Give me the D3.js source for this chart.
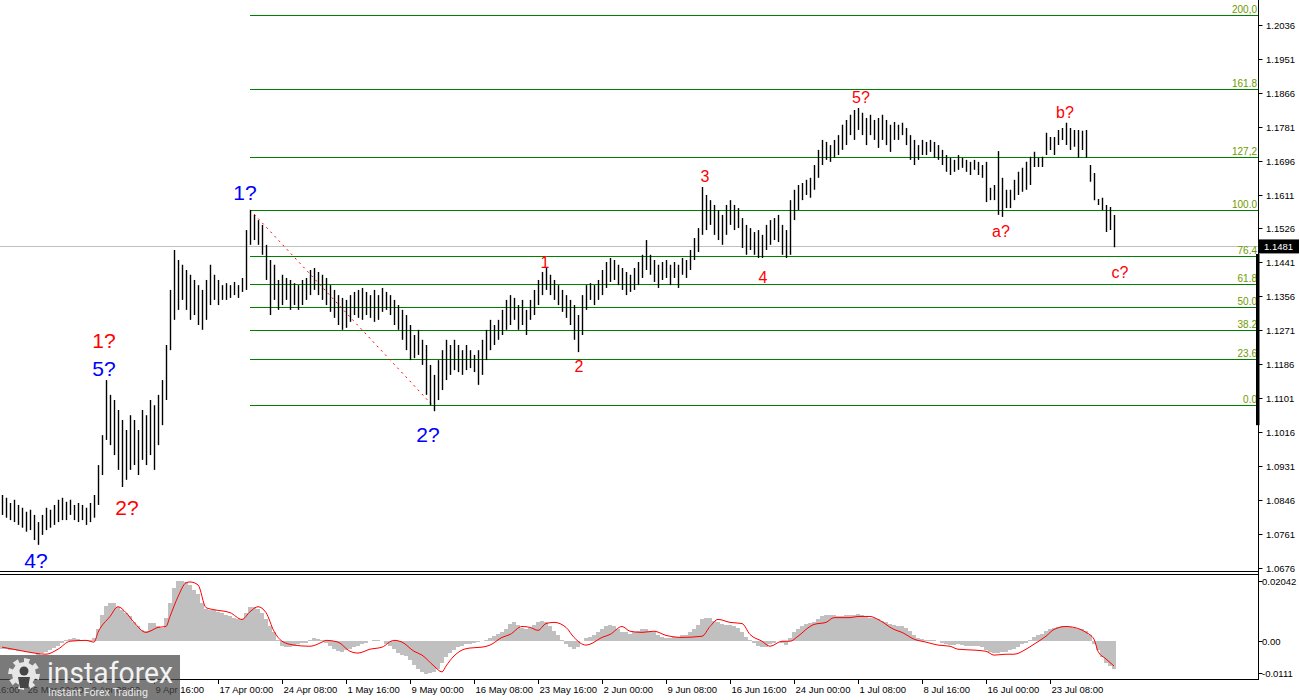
<!DOCTYPE html>
<html><head><meta charset="utf-8">
<script src="https://cdn.jsdelivr.net/npm/d3@7"></script>
<style>
body{margin:0;background:#fff;}
svg{display:block;font-family:"Liberation Sans",Arial,sans-serif;}
</style>
</head><body>
<svg id="c" width="1300" height="700"></svg>
<script>
// ---------------- DATA ----------------
const priceTicks = [1.2036,1.1951,1.1866,1.1781,1.1696,1.1611,1.1526,1.1441,1.1356,1.1271,1.1186,1.1101,1.1016,1.0931,1.0846,1.0761,1.0676];
const highs = [
1.0858,1.0851,1.0838,1.0846,1.0833,1.0826,1.0816,1.0821,1.0808,1.0790,
1.0808,1.0826,1.0821,1.0833,1.0846,1.0851,1.0841,1.0846,1.0833,1.0838,
1.0833,1.0826,1.0838,1.0858,1.0933,1.1008,1.1146,1.1109,1.1096,1.1071,
1.1046,1.1021,1.1058,1.1046,1.1021,1.1071,1.1058,1.1096,1.1083,1.1109,
1.1146,1.1234,1.1372,1.1472,1.1447,1.1435,1.1422,1.1410,1.1397,1.1384,
1.1372,1.1397,1.1435,1.1410,1.1397,1.1384,1.1389,1.1384,1.1392,1.1384,
1.1402,1.1522,1.1572,1.1560,1.1547,1.1535,1.1485,1.1447,1.1435,1.1397,
1.1410,1.1402,1.1397,1.1389,1.1384,1.1397,1.1402,1.1422,1.1427,1.1417,
1.1410,1.1402,1.1384,1.1372,1.1359,1.1352,1.1347,1.1359,1.1367,1.1372,
1.1377,1.1367,1.1359,1.1372,1.1359,1.1377,1.1367,1.1359,1.1347,1.1334,
1.1322,1.1309,1.1284,1.1259,1.1272,1.1247,1.1234,1.1184,1.1159,1.1196,
1.1221,1.1247,1.1234,1.1247,1.1234,1.1221,1.1234,1.1221,1.1209,1.1221,
1.1247,1.1272,1.1297,1.1284,1.1297,1.1322,1.1347,1.1359,1.1352,1.1334,
1.1347,1.1322,1.1347,1.1372,1.1397,1.1417,1.1427,1.1410,1.1397,1.1384,
1.1372,1.1359,1.1347,1.1334,1.1309,1.1359,1.1384,1.1389,1.1384,1.1397,
1.1422,1.1442,1.1452,1.1447,1.1435,1.1427,1.1417,1.1410,1.1427,1.1442,
1.1460,1.1497,1.1460,1.1447,1.1435,1.1442,1.1447,1.1435,1.1442,1.1435,
1.1452,1.1447,1.1472,1.1502,1.1527,1.1630,1.1610,1.1597,1.1585,1.1572,
1.1560,1.1585,1.1597,1.1585,1.1577,1.1552,1.1535,1.1527,1.1517,1.1522,
1.1510,1.1535,1.1547,1.1552,1.1560,1.1535,1.1522,1.1597,1.1623,1.1635,
1.1640,1.1648,1.1653,1.1685,1.1723,1.1748,1.1743,1.1735,1.1748,1.1760,
1.1786,1.1798,1.1811,1.1823,1.1828,1.1816,1.1803,1.1811,1.1798,1.1803,
1.1811,1.1798,1.1786,1.1793,1.1786,1.1791,1.1778,1.1760,1.1748,1.1735,
1.1748,1.1743,1.1748,1.1743,1.1735,1.1723,1.1710,1.1703,1.1698,1.1710,
1.1703,1.1698,1.1693,1.1698,1.1693,1.1685,1.1693,1.1628,1.1635,1.1720,
1.1653,1.1623,1.1623,1.1648,1.1668,1.1678,1.1693,1.1706,1.1718,1.1703,
1.1706,1.1766,1.1755,1.1755,1.1773,1.1778,1.1791,1.1778,1.1773,1.1773,
1.1771,1.1773,1.1685,1.1665,1.1600,1.1603,1.1585,1.1580,1.1560];
const lows = [
1.0808,1.0801,1.0795,1.0790,1.0783,1.0776,1.0766,1.0770,1.0745,1.0733,
1.0758,1.0770,1.0776,1.0783,1.0790,1.0795,1.0795,1.0808,1.0795,1.0790,
1.0795,1.0783,1.0790,1.0801,1.0833,1.0908,1.0996,1.0983,1.0958,1.0921,
1.0878,1.0896,1.0921,1.0933,1.0908,1.0946,1.0933,1.0958,1.0921,1.0983,
1.1033,1.1096,1.1221,1.1297,1.1322,1.1347,1.1322,1.1297,1.1309,1.1284,
1.1272,1.1297,1.1334,1.1347,1.1334,1.1347,1.1347,1.1352,1.1359,1.1352,
1.1367,1.1372,1.1485,1.1497,1.1485,1.1460,1.1397,1.1309,1.1347,1.1322,
1.1334,1.1347,1.1322,1.1334,1.1322,1.1334,1.1347,1.1359,1.1372,1.1359,
1.1347,1.1334,1.1317,1.1302,1.1284,1.1272,1.1277,1.1292,1.1309,1.1302,
1.1297,1.1309,1.1302,1.1292,1.1297,1.1317,1.1322,1.1309,1.1284,1.1272,
1.1247,1.1221,1.1196,1.1201,1.1209,1.1184,1.1109,1.1083,1.1068,1.1096,
1.1121,1.1146,1.1159,1.1171,1.1166,1.1159,1.1171,1.1176,1.1166,1.1134,
1.1159,1.1196,1.1221,1.1234,1.1247,1.1259,1.1272,1.1284,1.1297,1.1272,
1.1284,1.1259,1.1297,1.1309,1.1334,1.1359,1.1372,1.1359,1.1347,1.1334,
1.1317,1.1302,1.1284,1.1247,1.1216,1.1259,1.1322,1.1347,1.1334,1.1347,
1.1359,1.1377,1.1392,1.1397,1.1384,1.1372,1.1359,1.1367,1.1372,1.1384,
1.1402,1.1422,1.1410,1.1392,1.1377,1.1397,1.1402,1.1384,1.1402,1.1377,
1.1410,1.1402,1.1422,1.1447,1.1467,1.1510,1.1522,1.1535,1.1510,1.1497,
1.1485,1.1510,1.1535,1.1522,1.1527,1.1477,1.1460,1.1472,1.1460,1.1452,
1.1452,1.1472,1.1485,1.1497,1.1492,1.1460,1.1452,1.1460,1.1547,1.1572,
1.1597,1.1610,1.1603,1.1623,1.1653,1.1685,1.1698,1.1693,1.1703,1.1710,
1.1723,1.1735,1.1760,1.1748,1.1773,1.1760,1.1735,1.1760,1.1748,1.1728,
1.1748,1.1735,1.1718,1.1748,1.1748,1.1760,1.1735,1.1698,1.1685,1.1698,
1.1710,1.1710,1.1718,1.1703,1.1698,1.1685,1.1668,1.1660,1.1668,1.1673,
1.1678,1.1668,1.1660,1.1673,1.1660,1.1653,1.1592,1.1597,1.1597,1.1560,
1.1555,1.1577,1.1577,1.1597,1.1610,1.1618,1.1623,1.1635,1.1680,1.1680,
1.1680,1.1710,1.1723,1.1710,1.1735,1.1748,1.1735,1.1723,1.1731,1.1703,
1.1723,1.1703,1.1643,1.1597,1.1585,1.1572,1.1517,1.1522,1.1479];
const lastPrice = 1.1481;

const macdHist = [
-0.0025,-0.0027,-0.0028,-0.0030,-0.0032,-0.0033,-0.0035,-0.0036,-0.0040,-0.0045,
-0.0040,-0.0035,-0.0030,-0.0022,-0.0015,-0.0005,0.0005,0.0008,0.0010,0.0008,
0.0005,0.0003,0.0005,0.0010,0.0040,0.0090,0.0120,0.0130,0.0130,0.0115,
0.0105,0.0095,0.0085,0.0065,0.0050,0.0038,0.0035,0.0062,0.0062,0.0050,
0.0045,0.0080,0.0130,0.0180,0.0205,0.0205,0.0200,0.0190,0.0175,0.0160,
0.0130,0.0110,0.0105,0.0105,0.0100,0.0095,0.0090,0.0085,0.0080,0.0075,
0.0075,0.0095,0.0115,0.0115,0.0110,0.0095,0.0075,0.0050,0.0030,0.0005,
-0.0015,-0.0020,-0.0020,-0.0015,-0.0010,-0.0005,-0.0005,0.0005,0.0010,0.0008,
0.0003,-0.0005,-0.0015,-0.0025,-0.0032,-0.0035,-0.0030,-0.0025,-0.0020,-0.0015,
-0.0010,-0.0005,0.0000,0.0005,0.0005,0.0000,-0.0008,-0.0015,-0.0025,-0.0040,
-0.0045,-0.0050,-0.0065,-0.0080,-0.0095,-0.0105,-0.0110,-0.0108,-0.0105,-0.0095,
-0.0075,-0.0055,-0.0040,-0.0030,-0.0020,-0.0015,-0.0010,-0.0008,-0.0005,-0.0003,
0.0000,0.0005,0.0010,0.0018,0.0025,0.0030,0.0040,0.0060,0.0065,0.0055,
0.0045,0.0040,0.0045,0.0055,0.0065,0.0068,0.0065,0.0050,0.0035,0.0020,
0.0005,-0.0010,-0.0020,-0.0025,-0.0020,0.0000,0.0010,0.0015,0.0020,0.0030,
0.0040,0.0050,0.0055,0.0050,0.0040,0.0030,0.0030,0.0025,0.0030,0.0035,
0.0040,0.0040,0.0035,0.0030,0.0020,0.0015,0.0010,0.0012,0.0015,0.0015,
0.0020,0.0020,0.0030,0.0040,0.0055,0.0075,0.0080,0.0078,0.0070,0.0065,
0.0060,0.0055,0.0055,0.0050,0.0045,0.0030,0.0015,0.0005,-0.0005,-0.0015,
-0.0020,-0.0018,-0.0010,-0.0005,0.0000,-0.0005,-0.0012,0.0010,0.0030,0.0040,
0.0050,0.0060,0.0062,0.0065,0.0075,0.0085,0.0090,0.0090,0.0088,0.0085,
0.0085,0.0088,0.0090,0.0090,0.0092,0.0088,0.0085,0.0080,0.0080,0.0075,
0.0070,0.0065,0.0060,0.0055,0.0050,0.0050,0.0045,0.0035,0.0020,0.0012,
0.0008,0.0005,0.0003,0.0003,0.0000,-0.0005,-0.0010,-0.0012,-0.0012,-0.0010,
-0.0012,-0.0015,-0.0015,-0.0015,-0.0015,-0.0020,-0.0030,-0.0035,-0.0040,-0.0040,
-0.0038,-0.0035,-0.0030,-0.0025,-0.0020,-0.0010,-0.0005,0.0005,0.0015,0.0020,
0.0025,0.0035,0.0040,0.0045,0.0048,0.0050,0.0050,0.0048,0.0045,0.0042,
0.0040,0.0035,0.0020,-0.0010,-0.0030,-0.0055,-0.0075,-0.0085,-0.0095];

const signalBars = [0,4,8,11,14,17,21,23,24,27,29,31,33,36,37,39,41,42,44,46,47,49,51,53,57,60,62,64,66,68,70,73,77,80,81,84,87,89,92,95,98,100,103,105,108,110,111,113,115,117,120,122,125,127,130,132,134,136,138,141,143,146,147,150,152,155,157,160,163,166,170,175,177,179,182,185,187,190,192,195,197,199,202,203,206,208,212,214,217,219,223,225,228,231,234,237,239,243,246,248,251,253,256,258,261,263,266,268,271,273,274,276,278];
const signalVals = [-0.0020,-0.0030,-0.0040,-0.0044,-0.0027,0.0000,0.0003,-0.0003,0.0030,0.0084,0.0117,0.0097,0.0064,0.0030,0.0034,0.0047,0.0050,0.0084,0.0151,0.0198,0.0201,0.0191,0.0114,0.0107,0.0097,0.0074,0.0100,0.0117,0.0097,0.0034,0.0000,-0.0013,-0.0017,-0.0003,0.0003,-0.0003,-0.0034,-0.0040,-0.0027,-0.0020,0.0003,-0.0003,-0.0034,-0.0047,-0.0084,-0.0104,-0.0084,-0.0050,-0.0030,-0.0023,-0.0020,-0.0013,0.0013,0.0023,0.0050,0.0047,0.0037,0.0060,0.0064,0.0047,0.0013,-0.0013,-0.0010,0.0013,0.0023,0.0050,0.0034,0.0030,0.0034,0.0020,0.0013,0.0017,0.0050,0.0074,0.0064,0.0060,0.0023,0.0000,-0.0017,0.0000,0.0000,0.0017,0.0050,0.0057,0.0064,0.0080,0.0080,0.0084,0.0084,0.0074,0.0040,0.0030,0.0007,-0.0003,-0.0013,-0.0017,-0.0027,-0.0030,-0.0034,-0.0047,-0.0044,-0.0044,-0.0027,-0.0010,0.0017,0.0040,0.0050,0.0047,0.0030,0.0007,-0.0034,-0.0060,-0.0084];
const macdTicks = [0.02042, 0.00, -0.0111];
const macdTickLabels = ["0.02042","0.00","-0.0111"];

const dateBars = [-10,6,22,38,54,70,86,102,118,134,150,166,182,198,214,230,246,262];
const dateLabels = ["18 Mar 16:00","26 Mar 00:00","2 Apr 08:00","9 Apr 16:00","17 Apr 00:00","24 Apr 08:00","1 May 16:00","9 May 00:00","16 May 08:00","23 May 16:00","2 Jun 00:00","9 Jun 08:00","16 Jun 16:00","24 Jun 00:00","1 Jul 08:00","8 Jul 16:00","16 Jul 00:00","23 Jul 08:00"];

const fibLevels = [0,23.6,38.2,50,61.8,76.4,100,127.2,161.8,200];
const fibLabels = ["0.0","23.6","38.2","50.0","61.8","76.4","100.0","127,2","161.8","200,0"];
const fibHigh = 1.1573, fibLow = 1.1084, fibStartBar = 62, fibEndBar = 107.5;

const waveText  = ["4?","2?","1?","5?","1?","2?","1","2","3","4","5?","a?","b?","c?"];
const waveBar   = [8.5,31.25,25.5,25.5,60.75,106.5,135.75,144.25,175.75,190.25,214.75,249.75,265.75,279.5];
const wavePrice = [1.0675,1.0808,1.1227,1.1156,1.1597,1.0991,1.1427,1.1166,1.1643,1.1389,1.1841,1.1505,1.1803,1.1402];
const waveColor = ["blue","red","red","blue","blue","blue","red","red","red","red","red","red","red","red"];
const waveBig   = [1,1,1,1,1,1,0,0,0,0,0,0,0,0];

// ---------------- DRAW ----------------
const svg = d3.select("#c");
const axisX = 1258.5;
const x = d3.scaleLinear().domain([0, 278]).range([2, 1114]);
const y = d3.scaleLinear().domain([1.0676, 1.2036]).range([567.6, 25]);
const ym = d3.scaleLinear().domain([-0.0111, 0.02042]).range([674, 581]);
const px = i => Math.round(x(i)) + 0.5;

const defs = svg.append("defs");
defs.append("clipPath").attr("id","mainClip")
  .append("rect").attr("x",0).attr("y",0).attr("width",axisX).attr("height",571);
defs.append("clipPath").attr("id","subClip")
  .append("rect").attr("x",0).attr("y",575).attr("width",axisX).attr("height",104);

const main = svg.append("g").attr("clip-path","url(#mainClip)");

// current price line
main.append("line").attr("x1",0).attr("x2",axisX)
  .attr("y1",Math.round(y(lastPrice))+0.5).attr("y2",Math.round(y(lastPrice))+0.5)
  .attr("stroke","#c0c0c0").attr("stroke-width",1);

// fibo levels
const fibPrice = l => fibLow + (fibHigh - fibLow) * l / 100;
fibLevels.forEach((l, k) => {
  const yy = Math.round(y(fibPrice(l))) + 0.5;
  main.append("line").attr("x1", x(fibStartBar)).attr("x2", axisX)
    .attr("y1", yy).attr("y2", yy).attr("stroke", "#008000").attr("stroke-width", 1.2)
    .attr("shape-rendering","crispEdges");
  main.append("text").attr("x", axisX - 1.5).attr("y", yy - 2.5)
    .attr("text-anchor","end").attr("font-size", 10).attr("fill", "#6e9a00")
    .text(fibLabels[k]);
});
// fibo base dashed line
main.append("line").attr("x1", x(fibStartBar)).attr("y1", y(fibHigh))
  .attr("x2", x(fibEndBar)).attr("y2", y(fibLow))
  .attr("stroke","#ff0000").attr("stroke-width",1).attr("stroke-dasharray","2,4");

// bars
main.append("g").selectAll("line").data(highs).join("line")
  .attr("x1",(d,i)=>px(i)).attr("x2",(d,i)=>px(i))
  .attr("y1",d=>y(d)).attr("y2",(d,i)=>y(lows[i]))
  .attr("stroke","#000").attr("stroke-width",1.4);

// wave labels
waveText.forEach((t,k)=>{
  svg.append("text").attr("x", x(waveBar[k])).attr("y", y(wavePrice[k]))
    .attr("text-anchor","middle").attr("font-size", waveBig[k] ? 21 : 16)
    .attr("fill", waveColor[k] === "blue" ? "#0000ff" : "#ff0000").text(t);
});

// separators
[571.5, 574.5, 679.5].forEach(v => svg.append("line").attr("x1",0).attr("x2",axisX)
  .attr("y1",v).attr("y2",v).attr("stroke","#000").attr("stroke-width",1));
svg.append("line").attr("x1",axisX).attr("x2",axisX).attr("y1",0).attr("y2",680)
  .attr("stroke","#000").attr("stroke-width",1);

// price axis
priceTicks.forEach(p=>{
  const yy = Math.round(y(p)) + 0.5;
  svg.append("line").attr("x1",axisX).attr("x2",axisX+4).attr("y1",yy).attr("y2",yy).attr("stroke","#000");
  svg.append("text").attr("x",1266).attr("y",yy).attr("dy","0.35em")
    .attr("font-size",9.5).attr("fill","#000").text(p.toFixed(4));
});
// marker bar on axis
svg.append("rect").attr("x",1256).attr("width",3.5)
  .attr("y", y(1.1462)).attr("height", y(1.1033) - y(1.1462)).attr("fill","#000");
// last price box
const ly = y(lastPrice);
svg.append("rect").attr("x",1259).attr("y",ly-7).attr("width",40).attr("height",14).attr("fill","#000");
svg.append("text").attr("x",1264).attr("y",ly).attr("dy","0.35em").attr("font-size",9.5)
  .attr("fill","#fff").text(lastPrice.toFixed(4));

// sub panel: histogram
const sub = svg.append("g").attr("clip-path","url(#subClip)");
sub.append("g").selectAll("rect").data(macdHist).join("rect")
  .attr("x",(d,i)=>Math.round(x(i))-2).attr("width",4)
  .attr("y",d=>ym(Math.max(0,d))).attr("height",d=>Math.abs(ym(d)-ym(0)))
  .attr("fill","#c0c0c0").attr("shape-rendering","crispEdges");
const sig = signalBars.map((b,k)=>[b, signalVals[k]]);
sub.append("path").datum(sig)
  .attr("d", d3.line().x(d=>x(d[0])).y(d=>ym(d[1])).curve(d3.curveMonotoneX))
  .attr("fill","none").attr("stroke","#ff0000").attr("stroke-width",1);

// macd axis
const macdY = [581, ym(0), 673];
macdTicks.forEach((v,k)=>{
  const yy = Math.round(macdY[k]) + 0.5;
  svg.append("line").attr("x1",axisX).attr("x2",axisX+4).attr("y1",yy).attr("y2",yy).attr("stroke","#000");
  svg.append("text").attr("x",1262).attr("y",yy).attr("dy","0.35em")
    .attr("font-size",9.5).attr("fill","#000").text(macdTickLabels[k]);
});

// date axis
dateBars.forEach((b,k)=>{
  const xx = px(b);
  svg.append("line").attr("x1",xx).attr("x2",xx).attr("y1",679.5).attr("y2",684).attr("stroke","#000");
  svg.append("text").attr("x",xx+1).attr("y",693).attr("font-size",9.5).attr("fill","#000").text(dateLabels[k]);
});

// logo
const logo = svg.append("g");
logo.append("rect").attr("x",0).attr("y",655).attr("width",180).attr("height",45).attr("fill","rgba(70,70,70,0.72)");
const gcx = 24, gcy = 674, teeth = 8;
let gp = "";
for (let t = 0; t < teeth * 2; t++) {
  const a0 = (t / (teeth * 2)) * Math.PI * 2, a1 = ((t + 1) / (teeth * 2)) * Math.PI * 2;
  const r = t % 2 === 0 ? 16 : 12;
  gp += (t === 0 ? "M" : "L") + (gcx + r * Math.cos(a0)).toFixed(1) + "," + (gcy + r * Math.sin(a0)).toFixed(1);
  gp += "L" + (gcx + r * Math.cos(a1)).toFixed(1) + "," + (gcy + r * Math.sin(a1)).toFixed(1);
}
gp += "Z";
logo.append("path").attr("d",gp).attr("fill","#e6e6e6");
logo.append("circle").attr("cx",gcx).attr("cy",gcy-3).attr("r",4.5).attr("fill","rgba(70,70,70,1)");
logo.append("path").attr("d",`M${gcx-6},${gcy+3}L${gcx+6},${gcy+3}L${gcx+4},${gcy+14}L${gcx-4},${gcy+14}Z`).attr("fill","rgba(70,70,70,1)");
logo.append("text").attr("x",47).attr("y",683).attr("font-family","Roboto, 'Open Sans', sans-serif")
  .attr("font-size",29).attr("fill","#f2f2f2").attr("textLength",126).attr("lengthAdjust","spacingAndGlyphs").text("instaforex");
logo.append("text").attr("x",48).attr("y",696).attr("font-family","Roboto, 'Open Sans', sans-serif")
  .attr("font-size",11).attr("fill","#e8e8e8").attr("textLength",100).attr("lengthAdjust","spacingAndGlyphs").text("Instant Forex Trading");
</script>
</body></html>
